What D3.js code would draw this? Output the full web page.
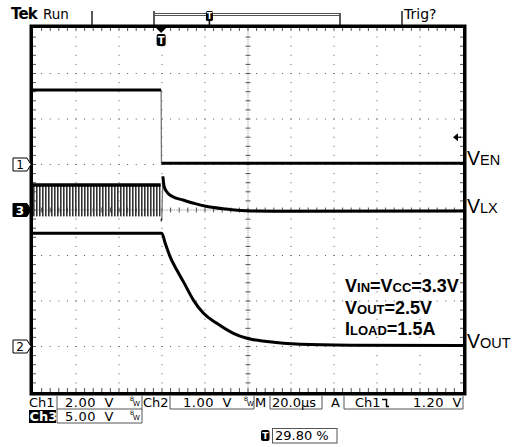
<!DOCTYPE html>
<html>
<head>
<meta charset="utf-8">
<script src="https://cdn.jsdelivr.net/npm/d3@7"></script>
<style>
body{margin:0;background:#fff}
svg{display:block}
</style>
</head>
<body>
<div class="scope"></div>
<script>
/* ======== values ======== */
var timePerDiv = 20;                       // µs / div
var trigPercent = 29.8;                    // trigger position in record (%)
var voltsPerDiv = {ch1: 2, ch2: 1, ch3: 5};
var groundDiv = {ch1: 1, ch2: -3, ch3: 0}; // ground marker, divs above centre
var trigLevel = 1.2;                       // V on ch1

// VEN (ch1)
var venT = [-59.6, 0, 0.15, 140.4];
var venV = [3.27, 3.27, 0.05, 0.05];

// VLX (ch3) switching burst, then after turn-off
var burstT = [-59.6, -0.2];
var vlxHigh = 2.75, vlxLow = -0.7;
var vlxT = [-0.2, 0.3, 0.8, 1.4, 2.6, 5.1, 10.2, 15.8, 21.3, 30.6, 41.4, 60, 140.4];
var vlxV = [-1.1, -1.1, 3.7, 2.6, 2.0, 1.5, 1.1, 0.7, 0.38, 0.1, -0.1, -0.15, -0.12];

// VOUT (ch2)
var voutT = [-59.6, 0.3, 1.9, 4.2, 7.3, 10.4, 15.0, 19.7, 25.9, 33.6, 39.9, 49.2, 64.7, 88, 140.4];
var voutV = [2.49, 2.49, 2.27, 1.97, 1.68, 1.42, 1.02, 0.73, 0.51, 0.29, 0.18, 0.11, 0.05, 0.03, 0.02];

var traceLabels = [['ch1', 'V', 'EN', venV], ['ch3', 'V', 'LX', vlxV], ['ch2', 'V', 'OUT', voutV]];
var noteLines = [
	[['V',0],['IN',1],['=V',0],['CC',1],['=3.3V',0]],
	[['V',0],['OUT',1],['=2.5V',0]],
	[['I',0],['LOAD',1],['=1.5A',0]]
];
var recordPercent = '29.80 %';
/* ============================================ */

var width = 515, height = 447;
var gLeft = 33, gTop = 28, divX = 43, divY = 45.5;
var gRight = gLeft + divX*10, gBottom = gTop + divY*8;
var font = 'DejaVu Sans';
var traceW = 3;

var svg = d3.select('.scope').append('svg')
	.attr('width', width).attr('height', height);
var defs = svg.append('defs');

var tSpan = 10*timePerDiv;
var x = d3.scaleLinear()
	.domain([-tSpan*trigPercent/100, tSpan*(1-trigPercent/100)])
	.range([gLeft, gRight]);
function chScale(ch){
	var s = voltsPerDiv[ch], o = groundDiv[ch];
	return d3.scaleLinear().domain([(-4-o)*s, (4-o)*s]).range([gBottom, gTop]);
}
var y = {ch1: chScale('ch1'), ch2: chScale('ch2'), ch3: chScale('ch3')};

/* graticule */
var grid = svg.append('g').attr('fill', '#555');
var i, j, gx, gy;
for(i = 1; i < 10; i++){
	gx = gLeft + divX*i;
	if(i == 5){
		for(j = 0; j <= 200; j++)
			grid.append('rect').attr('x', gx-0.5).attr('y', gTop + j*divY/25).attr('width', 1).attr('height', 1).attr('fill', '#999');
		for(j = 1; j < 40; j++)
			grid.append('rect').attr('x', gx-2.5).attr('y', gTop + j*divY/5 - 0.5).attr('width', 5).attr('height', 1);
	} else {
		for(j = 1; j < 40; j++)
			grid.append('rect').attr('x', gx-0.5).attr('y', gTop + j*divY/5 - 0.5).attr('width', 1).attr('height', 1);
	}
}
for(j = 1; j < 8; j++){
	gy = gTop + divY*j;
	if(j == 4){
		for(i = 0; i <= 250; i++)
			grid.append('rect').attr('x', gLeft + i*divX/25).attr('y', gy-0.5).attr('width', 1).attr('height', 1).attr('fill', '#999');
		for(i = 1; i < 50; i++)
			grid.append('rect').attr('x', gLeft + i*divX/5 - 0.5).attr('y', gy-2.5).attr('width', 1).attr('height', 5);
	} else {
		for(i = 1; i < 50; i++)
			grid.append('rect').attr('x', gLeft + i*divX/5 - 0.5).attr('y', gy-0.5).attr('width', 1).attr('height', 1);
	}
}
// edge ticks
for(j = 1; j < 40; j++){
	grid.append('rect').attr('x', gLeft).attr('y', gTop + j*divY/5 - 0.5).attr('width', 3).attr('height', 1);
	grid.append('rect').attr('x', gRight-3).attr('y', gTop + j*divY/5 - 0.5).attr('width', 3).attr('height', 1);
}
for(i = 1; i < 50; i++){
	grid.append('rect').attr('x', gLeft + i*divX/5 - 0.5).attr('y', gTop).attr('width', 1).attr('height', 3);
	grid.append('rect').attr('x', gLeft + i*divX/5 - 0.5).attr('y', gBottom-4).attr('width', 1).attr('height', 4);
}

/* traces */
var pat = defs.append('pattern').attr('id', 'sw')
	.attr('patternUnits', 'userSpaceOnUse').attr('width', 3).attr('height', 20);
pat.append('rect').attr('x', 0).attr('y', 0).attr('width', 1.6).attr('height', 20).attr('fill', '#333');

svg.append('rect')
	.attr('x', x(burstT[0])).attr('y', y.ch3(vlxHigh))
	.attr('width', x(burstT[1]) - x(burstT[0]))
	.attr('height', y.ch3(vlxLow) - y.ch3(vlxHigh))
	.attr('fill', 'url(#sw)');
svg.append('line')
	.attr('x1', x(burstT[0])).attr('x2', x(burstT[1]))
	.attr('y1', y.ch3(vlxHigh)).attr('y2', y.ch3(vlxHigh))
	.attr('stroke', '#000').attr('stroke-width', traceW+0.5);

function isEdge(a, b){
	var dx = b[0]-a[0], dy = Math.abs(b[1]-a[1]);
	return dy > 20 && dy > dx*8;
}
function drawTrace(ts, vs, ch, curve){
	var pts = ts.map(function(t, k){ return [x(t), y[ch](vs[k])]; });
	var line = d3.line().curve(curve || d3.curveLinear);
	var k;
	// fast edges show as thin grey lines on the scope
	for(k = 1; k < pts.length; k++){
		if(isEdge(pts[k-1], pts[k])){
			svg.append('path').attr('d', d3.line()([pts[k-1], pts[k]]))
				.attr('fill', 'none').attr('stroke', '#777').attr('stroke-width', 1.3);
		}
	}
	var runs = [[pts[0]]];
	for(k = 1; k < pts.length; k++){
		if(isEdge(pts[k-1], pts[k])) runs.push([pts[k]]);
		else runs[runs.length-1].push(pts[k]);
	}
	runs.forEach(function(r){
		if(r.length < 2) return;
		svg.append('path').attr('d', line(r))
			.attr('fill', 'none').attr('stroke', '#000')
			.attr('stroke-width', traceW).attr('stroke-linejoin', 'round');
	});
}
drawTrace(venT, venV, 'ch1');
drawTrace(vlxT, vlxV, 'ch3', d3.curveMonotoneX);
drawTrace(voutT, voutV, 'ch2', d3.curveMonotoneX);

/* frame */
svg.append('rect')
	.attr('x', gLeft-1.75).attr('y', gTop-1.75)
	.attr('width', gRight-gLeft+3.5).attr('height', gBottom-gTop+3.5)
	.attr('fill', 'none').attr('stroke', '#000').attr('stroke-width', 3.5);

/* ground markers */
function groundMarker(ch, label, filled){
	var gy0 = y[ch](0);
	svg.append('path')
		.attr('d', 'M13,'+(gy0-6.5)+'H27L31,'+gy0+'L27,'+(gy0+6.5)+'H13Z')
		.attr('fill', filled ? '#000' : '#fff')
		.attr('stroke', '#000').attr('stroke-width', 1);
	svg.append('text').attr('x', 20).attr('y', gy0+4.5)
		.attr('text-anchor', 'middle').attr('font-family', font)
		.attr('font-size', 12).attr('font-weight', filled ? 'bold' : 'normal')
		.attr('fill', filled ? '#fff' : '#000').text(label);
}
groundMarker('ch1', '1', false);
groundMarker('ch3', '3', true);
groundMarker('ch2', '2', false);

/* trigger level arrow */
var ty = y.ch1(trigLevel);
svg.append('path').attr('d', 'M453,'+ty+'l5,-4v8z').attr('fill', '#000');
svg.append('line').attr('x1', 456).attr('x2', 461).attr('y1', ty).attr('y2', ty)
	.attr('stroke', '#000').attr('stroke-width', 1.2);

/* trigger position marker */
var tx = x(0);
svg.append('path').attr('d', 'M'+(tx-5)+','+gTop+'h10l-5,5z').attr('fill', '#000');
svg.append('rect').attr('x', tx-4.5).attr('y', gTop+6).attr('width', 9).attr('height', 12)
	.attr('rx', 2).attr('fill', '#000');
svg.append('text').attr('x', tx).attr('y', gTop+16).attr('text-anchor', 'middle')
	.attr('font-family', font).attr('font-size', 10).attr('font-weight', 'bold')
	.attr('fill', '#fff').text('T');

/* trace labels at right edge */
traceLabels.forEach(function(l){
	var ly = y[l[0]](l[3][l[3].length-1]) + 2;
	var t = svg.append('text').attr('x', 467).attr('y', ly)
		.attr('font-family', 'Liberation Sans').attr('fill', '#000');
	t.append('tspan').attr('font-size', 19.5).text(l[1]);
	t.append('tspan').attr('font-size', 14.5).text(l[2]);
});

/* conditions note */
noteLines.forEach(function(line, k){
	var t = svg.append('text').attr('x', 345).attr('y', 292 + k*21.5)
		.attr('font-family', 'Liberation Sans').attr('font-weight', 'bold').attr('fill', '#000');
	line.forEach(function(p){
		t.append('tspan').attr('font-size', p[1] ? 13 : 18).text(p[0]);
	});
});

/* header */
svg.append('text').attr('x', 11).attr('y', 19).attr('font-family', font)
	.attr('font-size', 15).attr('font-weight', 'bold').attr('letter-spacing', -0.8).text('Tek');
svg.append('text').attr('x', 43).attr('y', 19).attr('font-family', font)
	.attr('font-size', 13.5).text('Run');
svg.append('text').attr('x', 404).attr('y', 19).attr('font-family', font)
	.attr('font-size', 14).text('Trig?');
var hdr = svg.append('g').attr('stroke', '#000').attr('stroke-width', 1.3).attr('fill', 'none');
hdr.append('line').attr('x1', 92).attr('x2', 92).attr('y1', 11).attr('y2', 25);
hdr.append('line').attr('x1', 402).attr('x2', 402).attr('y1', 11).attr('y2', 25);
var barL = 154, barR = 340;
hdr.append('line').attr('x1', barL).attr('x2', barL).attr('y1', 11).attr('y2', 25);
hdr.append('line').attr('x1', barR).attr('x2', barR).attr('y1', 13).attr('y2', 25);
hdr.append('rect').attr('x', barL).attr('y', 13.5).attr('width', barR-barL).attr('height', 2)
	.attr('stroke', '#555').attr('stroke-width', 1);
var bx = barL + (barR-barL)*trigPercent/100;
svg.append('rect').attr('x', bx-3.5).attr('y', 11).attr('width', 7).attr('height', 10).attr('rx', 1.5).attr('fill', '#000');
svg.append('line').attr('x1', bx).attr('x2', bx).attr('y1', 20).attr('y2', 25).attr('stroke', '#000').attr('stroke-width', 1.5);
svg.append('text').attr('x', bx).attr('y', 19).attr('text-anchor', 'middle').attr('font-family', font)
	.attr('font-size', 8).attr('font-weight', 'bold').attr('fill', '#fff').text('T');

/* status line */
function box(x0, x1, y0, y1){
	svg.append('path').attr('d', 'M'+x0+','+y0+'V'+y1+'H'+x1+'V'+y0)
		.attr('fill', 'none').attr('stroke', '#555').attr('stroke-width', 1);
}
svg.append('rect').attr('x', 29).attr('y', 410).attr('width', 27).attr('height', 13).attr('fill', '#000');
box(57, 142, 396, 409);
box(170, 254, 396, 409);
box(270, 322, 396, 409);
box(344, 463, 396, 409);
box(57, 142, 409, 423);
svg.append('path').attr('d', 'M382,399.5H386.5V406.5H389')
	.attr('fill', 'none').attr('stroke', '#000').attr('stroke-width', 1.5);

var st = svg.append('g').attr('font-family', font).attr('font-size', 13).attr('fill', '#000');
function bw(bx0, by0){
	st.append('text').attr('x', bx0).attr('y', by0-4).attr('font-size', 6).text('B');
	st.append('text').attr('x', bx0+3).attr('y', by0+1).attr('font-size', 7).text('W');
}
function volts(xp, yp, v, anchor){
	st.append('text').attr('x', xp).attr('y', yp).attr('text-anchor', anchor || 'start')
		.attr('word-spacing', 4).attr('letter-spacing', 0.5).text(v.toFixed(2) + ' V');
}
st.append('text').attr('x', 29).attr('y', 407).text('Ch1');
volts(65, 407, voltsPerDiv.ch1);
bw(130, 405);
st.append('text').attr('x', 143).attr('y', 407).text('Ch2');
volts(183, 407, voltsPerDiv.ch2);
bw(244, 405);
st.append('text').attr('x', 255).attr('y', 407).text('M');
st.append('text').attr('x', 272).attr('y', 407).text(timePerDiv.toFixed(1) + 'µs');
st.append('text').attr('x', 331).attr('y', 407).text('A');
st.append('text').attr('x', 355).attr('y', 407).text('Ch1');
volts(462, 407, trigLevel, 'end');

st.append('text').attr('x', 29.5).attr('y', 420.5).attr('fill', '#fff').attr('font-weight', 'bold').text('Ch3');
volts(65, 420.5, voltsPerDiv.ch3);
bw(130, 419);

svg.append('rect').attr('x', 261).attr('y', 430).attr('width', 8.5).attr('height', 11).attr('rx', 2).attr('fill', '#000');
svg.append('text').attr('x', 265.3).attr('y', 439).attr('text-anchor', 'middle').attr('font-family', font)
	.attr('font-size', 9).attr('font-weight', 'bold').attr('fill', '#fff').text('T');
svg.append('rect').attr('x', 272.5).attr('y', 428.5).attr('width', 64.5).attr('height', 14.5)
	.attr('fill', 'none').attr('stroke', '#555').attr('stroke-width', 1);
st.append('text').attr('x', 275).attr('y', 440).text(recordPercent);
</script>
</body>
</html>
